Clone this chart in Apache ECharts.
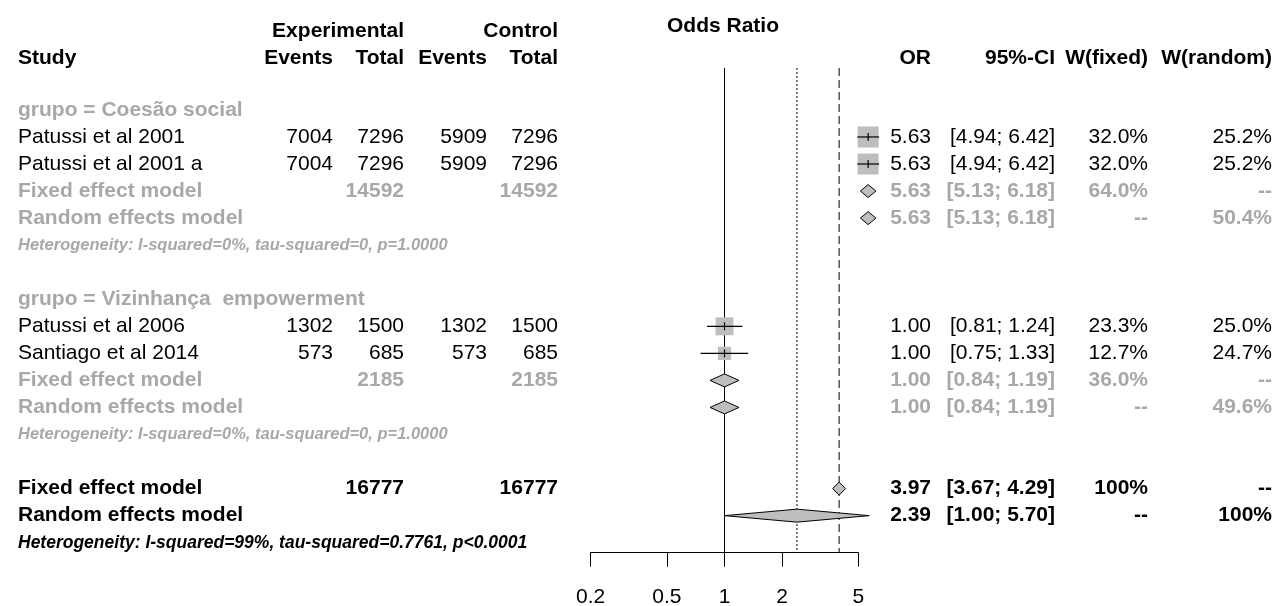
<!DOCTYPE html>
<html><head><meta charset="utf-8">
<script src="https://cdn.jsdelivr.net/npm/echarts@6/dist/echarts.min.js"></script>
<style>html,body{margin:0;padding:0;background:#fff}#c{width:1280px;height:606px}</style>
</head><body><div id="c"></div>
<script>
// ---------------- DATA ----------------
const studies      = ['Patussi et al 2001', 'Patussi et al 2001 a', 'Patussi et al 2006', 'Santiago et al 2014'];
const studyGroup   = [0, 0, 1, 1];
const expEvents    = [7004, 7004, 1302, 573];
const expTotal     = [7296, 7296, 1500, 685];
const ctrlEvents   = [5909, 5909, 1302, 573];
const ctrlTotal    = [7296, 7296, 1500, 685];
const studyOR      = [5.63, 5.63, 1.00, 1.00];
const studyLow     = [4.94, 4.94, 0.81, 0.75];
const studyHigh    = [6.42, 6.42, 1.24, 1.33];
const studyWFixed  = [32.0, 32.0, 23.3, 12.7];
const studyWRandom = [25.2, 25.2, 25.0, 24.7];

const groupLabels   = ['grupo = Coesão social', 'grupo = Vizinhança  empowerment'];
const groupTotExp   = [14592, 2185];
const groupTotCtrl  = [14592, 2185];
const groupFixOR    = [5.63, 1.00];
const groupFixLow   = [5.13, 0.84];
const groupFixHigh  = [6.18, 1.19];
const groupRanOR    = [5.63, 1.00];
const groupRanLow   = [5.13, 0.84];
const groupRanHigh  = [6.18, 1.19];
const groupWFixed   = [64.0, 36.0];
const groupWRandom  = [50.4, 49.6];
const groupHet      = ['Heterogeneity: I-squared=0%, tau-squared=0, p=1.0000',
                       'Heterogeneity: I-squared=0%, tau-squared=0, p=1.0000'];

const overallTotExp  = 16777;
const overallTotCtrl = 16777;
const overallFix     = [3.97, 3.67, 4.29];  // OR, low, high
const overallRan     = [2.39, 1.00, 5.70];
const overallWFixed  = 100;
const overallWRandom = 100;
const overallHet     = 'Heterogeneity: I-squared=99%, tau-squared=0.7761, p<0.0001';

const xTicks      = [0.2, 0.5, 1, 2, 5];
const xTickLabels = ['0.2', '0.5', '1', '2', '5'];
const xMin = 0.2, xMax = 5;

// ---------------- LAYOUT (rows) ----------------
const rows = [];
let r = 0;
groupLabels.forEach((g, gi) => {
  rows.push({row: r++, type: 'group', g: gi});
  studies.forEach((s, i) => { if (studyGroup[i] === gi) rows.push({row: r++, type: 'study', i}); });
  rows.push({row: r++, type: 'gfixed', g: gi});
  rows.push({row: r++, type: 'grandom', g: gi});
  rows.push({row: r++, type: 'ghet', g: gi});
  r++;
});
rows.push({row: r++, type: 'ofixed'});
rows.push({row: r++, type: 'orandom'});
rows.push({row: r++, type: 'ohet'});

const L = Math.log10;
const marks = [];
rows.forEach(o => {
  if (o.type === 'study') marks.push({row: o.row, kind: 'square', est: studyOR[o.i], lo: studyLow[o.i], hi: studyHigh[o.i], w: studyWFixed[o.i]});
  if (o.type === 'gfixed') marks.push({row: o.row, kind: 'diamond', est: groupFixOR[o.g], lo: groupFixLow[o.g], hi: groupFixHigh[o.g]});
  if (o.type === 'grandom') marks.push({row: o.row, kind: 'diamond', est: groupRanOR[o.g], lo: groupRanLow[o.g], hi: groupRanHigh[o.g]});
  if (o.type === 'ofixed') marks.push({row: o.row, kind: 'diamond', est: overallFix[0], lo: overallFix[1], hi: overallFix[2]});
  if (o.type === 'orandom') marks.push({row: o.row, kind: 'diamond', est: overallRan[0], lo: overallRan[1], hi: overallRan[2]});
});
const refLines = [
  {v: 1, dash: null},
  {v: overallRan[0], dash: [2, 2]},
  {v: overallFix[0], dash: [8, 4]}
];

const GREY = '#a8a8a8', FILL = '#bebebe';
const FONT = '"Liberation Sans", Arial, Helvetica, sans-serif';
const YMIN = -1.55, YMAX = 16.37;

const chart = echarts.init(document.getElementById('c'), null, {renderer: 'canvas'});
chart.setOption({
  animation: false,
  grid: {left: 590.7, right: 421.7, top: 68, bottom: 53.3, containLabel: false, outerBoundsMode: 'none'},
  xAxis: {
    type: 'value', min: L(xMin), max: L(xMax),
    axisLine: {show: true, onZero: false, lineStyle: {color: '#000', width: 1}},
    axisTick: {show: true, length: 14, lineStyle: {color: '#000', width: 1}, customValues: xTicks.map(L)},
    axisLabel: {show: true, margin: 34, color: '#000', fontSize: 21, fontFamily: FONT,
      customValues: xTicks.map(L),
      formatter: v => { let best = 0; xTicks.forEach((t, i) => { if (Math.abs(L(t) - v) < Math.abs(L(xTicks[best]) - v)) best = i; }); return xTickLabels[best]; }},
    splitLine: {show: false}
  },
  yAxis: {type: 'value', inverse: true, min: YMIN, max: YMAX, show: false, splitLine: {show: false}},
  series: [
    {
      type: 'custom', name: 'ref', clip: false, z: 1,
      data: refLines.map((d, i) => [L(d.v), 0, i]),
      renderItem: (params, api) => {
        const d = refLines[api.value(2)];
        const cs = params.coordSys;
        const x = api.coord([api.value(0), 0])[0];
        return {type: 'line', shape: {x1: x, y1: cs.y, x2: x, y2: cs.y + cs.height},
          style: {stroke: '#000', lineWidth: 1, lineDash: d.dash || null}};
      }
    },
    {
      type: 'custom', name: 'marks', clip: false, z: 2,
      data: marks.map((m, i) => [L(m.est), m.row, i]),
      renderItem: (params, api) => {
        const m = marks[api.value(2)];
        const c = api.coord([L(m.est), m.row]);
        const lo = api.coord([L(m.lo), m.row]);
        const hi = api.coord([L(m.hi), m.row]);
        if (m.kind === 'square') {
          const s = 21 * Math.sqrt(m.w / 32);
          return {type: 'group', children: [
            {type: 'rect', shape: {x: c[0] - s / 2, y: c[1] - s / 2, width: s, height: s}, style: {fill: FILL}},
            {type: 'line', shape: {x1: lo[0], y1: c[1], x2: hi[0], y2: c[1]}, style: {stroke: '#000', lineWidth: 1.2}},
            {type: 'line', shape: {x1: c[0], y1: c[1] - 4, x2: c[0], y2: c[1] + 4}, style: {stroke: '#000', lineWidth: 1.2}}
          ]};
        }
        const h = 6.5;
        return {type: 'polygon', shape: {points: [[lo[0], c[1]], [c[0], c[1] - h], [hi[0], c[1]], [c[0], c[1] + h]]},
          style: {fill: FILL, stroke: '#000', lineWidth: 1}};
      }
    }
  ]
});

// ---------------- TEXT TABLE ----------------
const COL = {study: 18, expEv: 333, expTot: 404, ctrlEv: 487, ctrlTot: 558, or: 931, ci: 1055, wf: 1148, wr: 1272};
const fmtOR = v => v.toFixed(2);
const fmtCI = (a, b) => '[' + a.toFixed(2) + '; ' + b.toFixed(2) + ']';
const fmtW = v => v === 100 ? '100%' : v.toFixed(1) + '%';
const texts = [];
function T(text, x, y, opt) {
  opt = opt || {};
  texts.push({type: 'text', x: x, y: y, silent: true, z: 10,
    style: {text: String(text), fill: opt.color || '#000', fontSize: opt.size || 21,
      fontWeight: opt.bold ? 'bold' : 'normal', fontStyle: opt.italic ? 'italic' : 'normal', fontFamily: FONT,
      align: opt.align || 'right', textAlign: opt.align || 'right', verticalAlign: 'middle', textVerticalAlign: 'middle'}});
}
const B = {bold: true};
// headers
T('Odds Ratio', 723, 26, {bold: true, align: 'center'});
T('Experimental', COL.expTot, 31, B);
T('Control', COL.ctrlTot, 31, B);
T('Study', COL.study, 58, {bold: true, align: 'left'});
T('Events', COL.expEv, 58, B); T('Total', COL.expTot, 58, B);
T('Events', COL.ctrlEv, 58, B); T('Total', COL.ctrlTot, 58, B);
T('OR', COL.or, 58, B); T('95%-CI', COL.ci, 58, B); T('W(fixed)', COL.wf, 58, B); T('W(random)', COL.wr, 58, B);

rows.forEach(o => {
  const y = chart.convertToPixel({xAxisIndex: 0, yAxisIndex: 0}, [0, o.row])[1];
  if (o.type === 'group') {
    T(groupLabels[o.g], COL.study, y, {align: 'left', color: GREY, bold: true});
  } else if (o.type === 'study') {
    const i = o.i;
    T(studies[i], COL.study, y, {align: 'left'});
    T(expEvents[i], COL.expEv, y); T(expTotal[i], COL.expTot, y);
    T(ctrlEvents[i], COL.ctrlEv, y); T(ctrlTotal[i], COL.ctrlTot, y);
    T(fmtOR(studyOR[i]), COL.or, y); T(fmtCI(studyLow[i], studyHigh[i]), COL.ci, y);
    T(fmtW(studyWFixed[i]), COL.wf, y); T(fmtW(studyWRandom[i]), COL.wr, y);
  } else if (o.type === 'gfixed') {
    const g = o.g, s = {color: GREY, bold: true};
    T('Fixed effect model', COL.study, y, {align: 'left', color: GREY, bold: true});
    T(groupTotExp[g], COL.expTot, y, s); T(groupTotCtrl[g], COL.ctrlTot, y, s);
    T(fmtOR(groupFixOR[g]), COL.or, y, s); T(fmtCI(groupFixLow[g], groupFixHigh[g]), COL.ci, y, s);
    T(fmtW(groupWFixed[g]), COL.wf, y, s); T('--', COL.wr, y, s);
  } else if (o.type === 'grandom') {
    const g = o.g, s = {color: GREY, bold: true};
    T('Random effects model', COL.study, y, {align: 'left', color: GREY, bold: true});
    T(fmtOR(groupRanOR[g]), COL.or, y, s); T(fmtCI(groupRanLow[g], groupRanHigh[g]), COL.ci, y, s);
    T('--', COL.wf, y, s); T(fmtW(groupWRandom[g]), COL.wr, y, s);
  } else if (o.type === 'ghet') {
    T(groupHet[o.g], COL.study, y, {align: 'left', color: GREY, bold: true, italic: true, size: 16.5});
  } else if (o.type === 'ofixed') {
    T('Fixed effect model', COL.study, y, {align: 'left', bold: true});
    T(overallTotExp, COL.expTot, y, B); T(overallTotCtrl, COL.ctrlTot, y, B);
    T(fmtOR(overallFix[0]), COL.or, y, B); T(fmtCI(overallFix[1], overallFix[2]), COL.ci, y, B);
    T(fmtW(overallWFixed), COL.wf, y, B); T('--', COL.wr, y, B);
  } else if (o.type === 'orandom') {
    T('Random effects model', COL.study, y, {align: 'left', bold: true});
    T(fmtOR(overallRan[0]), COL.or, y, B); T(fmtCI(overallRan[1], overallRan[2]), COL.ci, y, B);
    T('--', COL.wf, y, B); T(fmtW(overallWRandom), COL.wr, y, B);
  } else if (o.type === 'ohet') {
    T(overallHet, COL.study, y, {align: 'left', bold: true, italic: true, size: 17.5});
  }
});
chart.setOption({graphic: {elements: texts}});
</script>
</body></html>
